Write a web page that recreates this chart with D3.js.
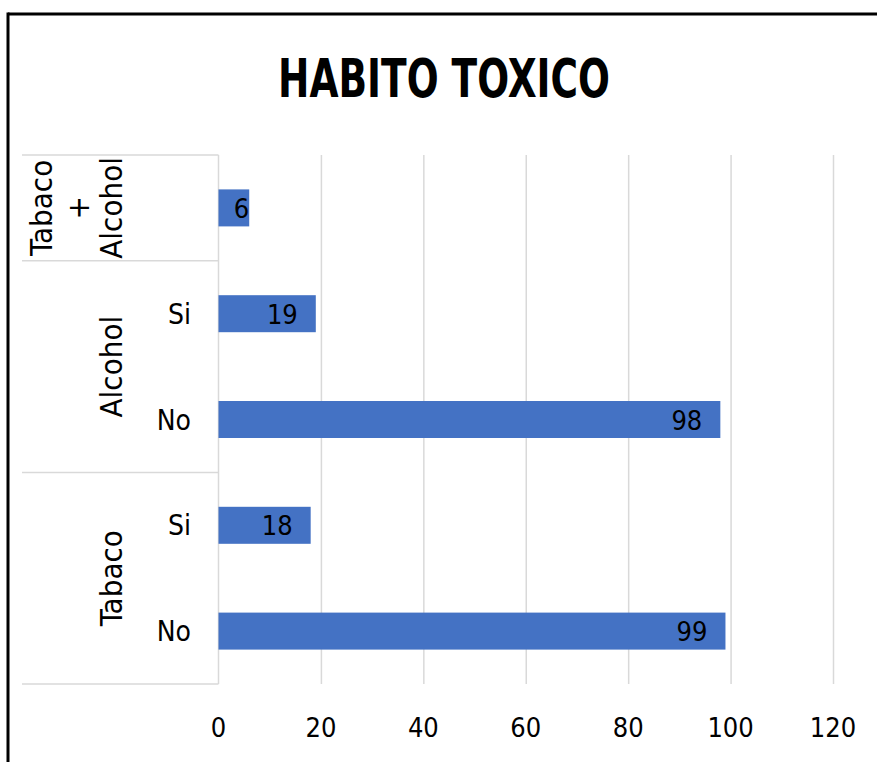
<!DOCTYPE html>
<html><head><meta charset="utf-8">
<script src="https://cdn.jsdelivr.net/npm/d3@7"></script>
<style>
html,body{margin:0;padding:0;background:#fff;}
svg{display:block;}
text{font-family:"Liberation Sans Narrow","Arial Narrow","DejaVu Sans Condensed",sans-serif;fill:#000;}
</style></head>
<body>
<svg id="chart" width="877" height="762"></svg>
<script>
// Data (top to bottom as displayed)
const groups = ["Tabaco + Alcohol", "Alcohol", "Alcohol", "Tabaco", "Tabaco"];
const subCategories = ["", "Si", "No", "Si", "No"];
const values = [6, 19, 98, 18, 99];
const groupNames = ["Tabaco + Alcohol", "Alcohol", "Tabaco"];
const groupLabelLines = [["Tabaco", "+", "Alcohol"], ["Alcohol"], ["Tabaco"]];
const xTicks = [0, 20, 40, 60, 80, 100, 120];
const title = "HABITO TOXICO";

const svg = d3.select("#chart");
const margin = {left: 218.5, right: 877 - 833, top: 155, bottom: 762 - 684};
const W = 877, H = 762;

// frame
svg.append("line").attr("x1", 8).attr("x2", W).attr("y1", 14).attr("y2", 14)
  .attr("stroke", "#000").attr("stroke-width", 3);
svg.append("line").attr("x1", 8).attr("x2", 8).attr("y1", 12.5).attr("y2", H)
  .attr("stroke", "#000").attr("stroke-width", 3);

// title
const t = svg.append("text").attr("x", 444).attr("y", 97)
  .attr("text-anchor", "middle").attr("font-weight", "bold")
  .attr("font-size", 54).text(title);
const tw = t.node().getComputedTextLength();
if (tw > 0) t.attr("textLength", 332).attr("lengthAdjust", "spacingAndGlyphs");

const x = d3.scaleLinear().domain([0, 120]).range([margin.left, W - margin.right]);
const idx = d3.range(values.length);
const y = d3.scaleBand().domain(idx).range([margin.top, H - margin.bottom]).paddingInner(0).paddingOuter(0);
const barH = 37;

// gridlines
const gx = svg.append("g").attr("transform", `translate(0,${H - margin.bottom})`)
  .call(d3.axisBottom(x).tickValues(xTicks).tickSize(-(H - margin.bottom - margin.top)).tickFormat(""));
gx.select(".domain").remove();
gx.selectAll(".tick line").attr("stroke", "#d9d9d9").attr("stroke-width", 1.5)
  .filter(d => d === 0).remove();

// x tick labels
svg.append("g").selectAll("text").data(xTicks).join("text")
  .attr("x", d => x(d)).attr("y", 737).attr("text-anchor", "middle")
  .attr("font-size", 27).text(d => d);

// category axis line and group separators
svg.append("line").attr("x1", x(0)).attr("x2", x(0)).attr("y1", margin.top).attr("y2", H - margin.bottom)
  .attr("stroke", "#d9d9d9").attr("stroke-width", 1.5);
const groupBounds = groupNames.map(g => {
  const ii = idx.filter(i => groups[i] === g);
  return {g, top: y(d3.min(ii)), bottom: y(d3.max(ii)) + y.bandwidth()};
});
const sepYs = [margin.top].concat(groupBounds.map(b => b.bottom));
svg.append("g").selectAll("line").data(sepYs).join("line")
  .attr("x1", 22).attr("x2", x(0)).attr("y1", d => d).attr("y2", d => d)
  .attr("stroke", "#d9d9d9").attr("stroke-width", 1.5);

// bars
svg.append("g").selectAll("rect").data(idx).join("rect")
  .attr("x", x(0)).attr("y", i => y(i) + (y.bandwidth() - barH) / 2)
  .attr("width", i => x(values[i]) - x(0)).attr("height", barH)
  .attr("fill", "#4472C4");

// value labels
const vl = svg.append("g").selectAll("text").data(idx).join("text")
  .attr("y", i => y(i) + y.bandwidth() / 2 + 10)
  .attr("text-anchor", "end").attr("font-size", 27).text(i => values[i]);
vl.attr("x", function(i) {
  const end = x(values[i]);
  const w = this.getComputedTextLength();
  const pad = Math.min(18, Math.max(0, end - x(0) - w - 16));
  return end - pad;
});

// sub category labels
svg.append("g").selectAll("text").data(idx.filter(i => subCategories[i])).join("text")
  .attr("x", 191).attr("y", i => y(i) + y.bandwidth() / 2 + 10)
  .attr("text-anchor", "end").attr("font-size", 28).text(i => subCategories[i]);

// group labels (rotated)
groupBounds.forEach((b, gi) => {
  const lines = groupLabelLines[gi];
  const cy = (b.top + b.bottom) / 2;
  const xs = lines.length === 1 ? [112] : [42, 79, 112];
  lines.forEach((ln, li) => {
    svg.append("text")
      .attr("transform", `translate(${xs[li] + 10},${cy}) rotate(-90)`)
      .attr("text-anchor", "middle").attr("font-size", 31).text(ln);
  });
});
</script>
</body></html>
